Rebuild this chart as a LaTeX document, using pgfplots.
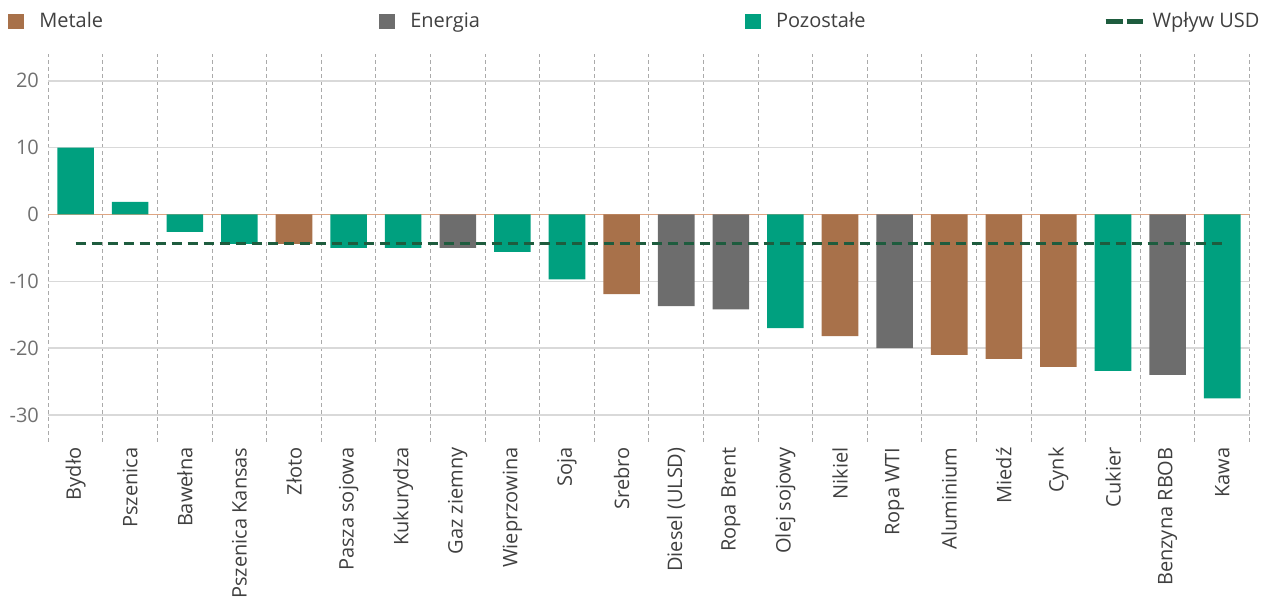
\documentclass[border=0pt]{standalone}
\usepackage{fontspec}
\setmainfont{Open Sans}
\usepackage{pgfplots}
\pgfplotsset{compat=1.18}
\definecolor{metal}{RGB}{168,113,74}
\definecolor{energy}{RGB}{109,109,109}
\definecolor{other}{RGB}{0,160,127}
\definecolor{usd}{RGB}{30,92,62}
\definecolor{zeroc}{RGB}{222,165,130}
\definecolor{gridc}{RGB}{217,217,217}
\definecolor{vgridc}{RGB}{170,170,170}
\definecolor{ytc}{RGB}{112,112,112}
\definecolor{labc}{RGB}{64,64,64}
\begin{document}
\begin{tikzpicture}
\begin{axis}[
  name=ax,
  scale only axis,
  width=600.6pt, height=193.8pt,
  xmin=-0.5, xmax=21.5, ymin=-34, ymax=24,
  axis line style={draw=none},
  ytick={-30,-20,-10,10,20},
  yticklabels={-30,-20,-10,10,20},
  extra y ticks={0}, extra y tick labels={0},
  extra y tick style={grid style={color=zeroc, line width=0.8pt}},
  ymajorgrids, grid style={color=gridc, line width=0.8pt},
  xtick={0,...,21},
  xticklabels={{Bydło},{Pszenica},{Bawełna},{Pszenica Kansas},{Złoto},{Pasza sojowa},{Kukurydza},{Gaz ziemny},{Wieprzowina},{Soja},{Srebro},{Diesel (ULSD)},{Ropa Brent},{Olej sojowy},{Nikiel},{Ropa WTI},{Aluminium},{Miedź},{Cynk},{Cukier},{Benzyna RBOB},{Kawa}},
  minor xtick={-0.5,0.5,...,21.5},
  xminorgrids,
  minor grid style={color=vgridc, line width=0.5pt, dash pattern=on 2pt off 1.5pt},
  major tick length=0pt, minor tick length=0pt,
  tick style={draw=none},
  xticklabel style={rotate=90, anchor=east, inner sep=2.7pt, text=labc, font=\fontsize{10}{12}\selectfont},
  yticklabel style={inner sep=0pt, xshift=-4.5pt, text=ytc, font=\fontsize{10}{12}\selectfont},
  legend columns=4,
  legend cell align=left,
  legend style={at={(-0.0333,1.084)}, anchor=west, draw=none, fill=none,
    inner sep=0pt, outer sep=0pt, column sep=0pt,
    nodes={inner sep=0pt, text=labc, font=\fontsize{10}{12}\selectfont}},
]
\addplot[ybar, bar width=0.67, bar shift=0pt, fill=metal, draw=none,
  legend image code/.code={\fill[metal] (0pt,-3.9pt) rectangle (7.8pt,3.9pt);}]
  coordinates {(4,-4.4) (10,-11.9) (14,-18.2) (16,-21.0) (17,-21.6) (18,-22.8)};
\addlegendentry{\hspace{7.7pt}\makebox[170pt][l]{Metale}}
\addplot[ybar, bar width=0.67, bar shift=0pt, fill=energy, draw=none,
  legend image code/.code={\fill[energy] (0pt,-3.9pt) rectangle (7.8pt,3.9pt);}]
  coordinates {(7,-5.0) (11,-13.7) (12,-14.2) (15,-20.0) (20,-24.0)};
\addlegendentry{\hspace{7.7pt}\makebox[167.35pt][l]{Energia}}
\addplot[ybar, bar width=0.67, bar shift=0pt, fill=other, draw=none,
  legend image code/.code={\fill[other] (0pt,-3.9pt) rectangle (7.8pt,3.9pt);}]
  coordinates {(0,10.0) (1,1.9) (2,-2.6) (3,-4.4) (5,-5.0) (6,-5.0) (8,-5.6) (9,-9.7) (13,-17.0) (19,-23.4) (21,-27.5)};
\addlegendentry{\hspace{7.7pt}\makebox[163.35pt][l]{Pozostałe}}
\addplot[color=usd, line width=1.6pt, dash pattern=on 5.3pt off 2.7pt, mark=none,
  legend image code/.code={\draw[usd, line width=2.8pt, dash pattern=on 8.5pt off 2pt] (0pt,0pt) -- (18.7pt,0pt);}]
  coordinates {(0,-4.35) (21,-4.35)};
\addlegendentry{\hspace{3.5pt}Wpływ USD}
\end{axis}
\pgfresetboundingbox
\path (ax.south west) ++(-24.15pt,-78.15pt) rectangle ++(634pt,299pt);
\end{tikzpicture}
\end{document}
